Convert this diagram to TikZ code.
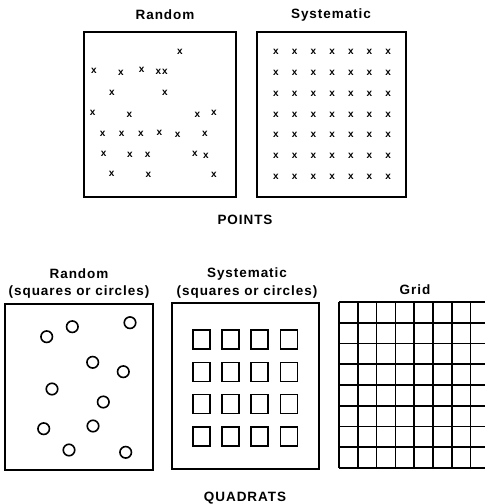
\documentclass[tikz,border=0pt]{standalone}
\usepackage{fontspec}
\setmainfont{Liberation Sans}
\newfontfamily\labelfont[LetterSpace=7]{Liberation Sans}
\usetikzlibrary{positioning}

\tikzset{
  frame/.style={line width=1.7pt},
  heading/.style={font=\labelfont\bfseries\fontsize{13.5}{13.5}\selectfont, inner sep=0pt},
  cross/.style={font=\bfseries\fontsize{10}{10}\selectfont, inner sep=0pt},
  ring/.style={draw, circle, line width=1.6pt, minimum size=11.5pt, inner sep=0pt},
  quad/.style={draw, line width=1.7pt, minimum width=17pt, minimum height=19pt, inner sep=0pt},
  gridline/.style={line width=1.7pt}
}

\begin{document}
\begin{tikzpicture}[x=1pt,y=-1pt]
        \useasboundingbox (0,0) rectangle (485,504);
        % points
        \node[heading] (trand) at (165,15) {Random};
        \node[heading] (tsyst) at (331,15) {Systematic};
        \draw[frame] (84,32) rectangle (236,197);
        \draw[frame] (257,32) rectangle (406,197);
        \foreach \px/\py [count=\i] in {180/52, 94/71, 121/73, 141.7/70, 158.3/72, 165/72,
            112/92.7, 165/93, 92.7/113, 129.3/115, 197.3/115, 214/113,
            102.7/134, 121.7/134, 141/134, 159.3/133, 177.7/135, 205/134,
            103.7/154, 130/155, 147.7/155, 195/154, 206/156,
            111.7/174, 148.3/175, 214/175}
          \node[cross] (rp\i) at (\px,\py) {x};
        \foreach \c in {0,...,6}
          \foreach \r in {0,...,6}
            \node[cross] (sp\c\r) at (276+18.7*\c,52+20.8*\r) {x};
        \node[heading] (points) at (245,220) {POINTS};
        % quadrats
        \node[heading] (qrand) at (79,274) {Random};
        \node[heading] (qrandsub) at (79,292) {(squares or circles)};
        \node[heading] (qsyst) at (247,274) {Systematic};
        \node[heading] (qsystsub) at (247,292) {(squares or circles)};
        \node[heading] (qgrid) at (415,290) {Grid};
        \draw[frame] (5,304) rectangle (153,470);
        \draw[frame] (172,303) rectangle (319,469);
        \foreach \px/\py [count=\i] in {46.7/336.7, 72.3/326.7, 130/322.7, 92.7/362.3,
            123.3/371.7, 52/389, 103.3/402, 43.7/428.7, 93/426, 69/450, 125.7/452.3}
          \node[ring] (rq\i) at (\px,\py) {};
        \foreach \c in {0,...,3}
          \foreach \r in {0,...,3}
            \node[quad] (sq\c\r) at (201.2+29.3*\c,339.7+32.2*\r) {};
        \foreach \k in {0,...,7}
          \draw[gridline] (339+18.8*\k,302) -- (339+18.8*\k,468);
        \foreach \k in {0,...,8}
          \draw[gridline] (339,302+20.75*\k) -- (486,302+20.75*\k);
        \node[heading] (quadrats) at (245,498) {QUADRATS};
\end{tikzpicture}
\end{document}
